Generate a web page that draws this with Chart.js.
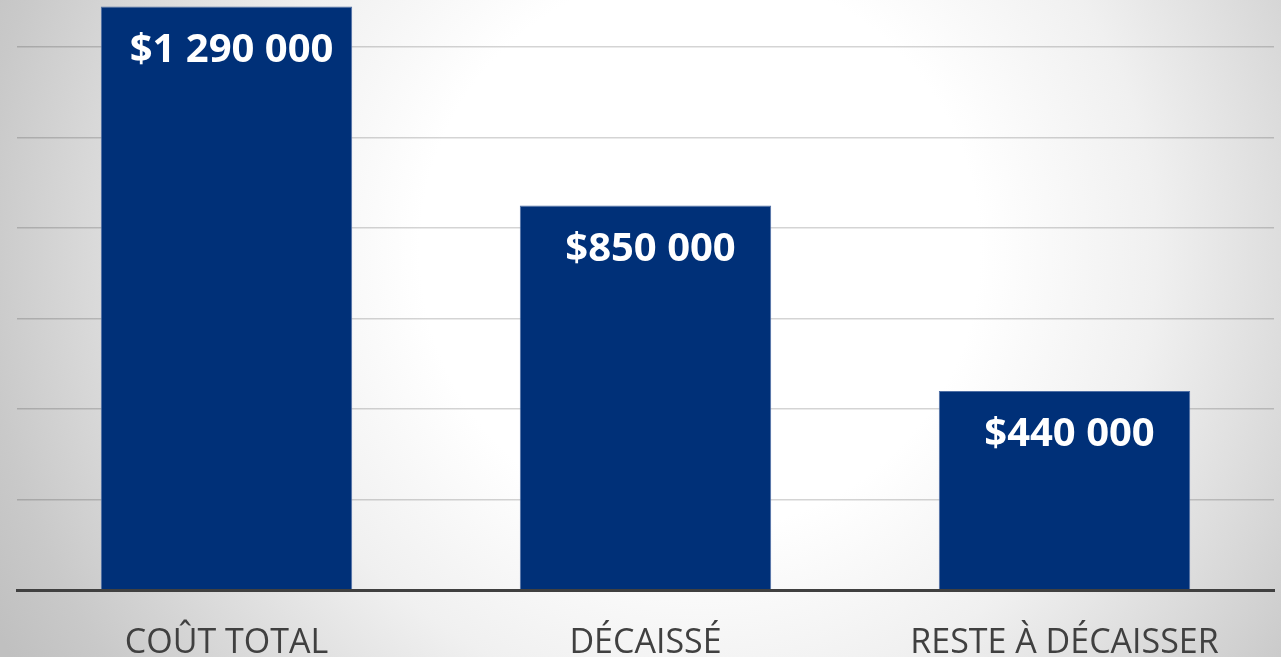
<!DOCTYPE html>
<html>
<head>
<meta charset="utf-8">
<script src="https://cdn.jsdelivr.net/npm/chart.js@4.4.1/dist/chart.umd.min.js"></script>
<style>
  html, body { margin: 0; padding: 0; overflow: hidden; }
  #wrap { width: 1281px; height: 657px; position: relative; }
</style>
</head>
<body>
<div id="wrap"><canvas id="c"></canvas></div>
<script>
const categories = ["COÛT TOTAL", "DÉCAISSÉ", "RESTE À DÉCAISSER"];
const values = [1290000, 850000, 440000];
const yMax = 1300000;
const yTicks = [200000, 400000, 600000, 800000, 1000000, 1200000];

function fmt(v) {
  return "$" + String(v).replace(/\B(?=(\d{3})+(?!\d))/g, " ");
}

const bgPlugin = {
  id: "bg",
  beforeDraw(chart) {
    const ctx = chart.ctx;
    const w = chart.width, h = chart.height;
    ctx.save();
    const g = ctx.createRadialGradient(700, 250, 0, 700, 250, 800);
    g.addColorStop(0, "#ffffff");
    g.addColorStop(0.35, "#ffffff");
    g.addColorStop(0.57, "#f0f0f0");
    g.addColorStop(0.79, "#d6d6d6");
    g.addColorStop(0.9, "#c9c9c9");
    g.addColorStop(1, "#c0c0c0");
    ctx.fillStyle = g;
    ctx.fillRect(0, 0, w, h);
    ctx.restore();
  }
};

const labelPlugin = {
  id: "valLabels",
  afterDatasetsDraw(chart) {
    const ctx = chart.ctx;
    const meta = chart.getDatasetMeta(0);
    ctx.save();
    ctx.fillStyle = "#ffffff";
    ctx.font = "bold 40px 'Open Sans'";
    ctx.textAlign = "center";
    ctx.textBaseline = "alphabetic";
    meta.data.forEach((bar, i) => {
      ctx.fillText(fmt(chart.data.datasets[0].data[i]), bar.x + 5, bar.y + 55);
    });
    ctx.restore();
  }
};

new Chart(document.getElementById("c"), {
  type: "bar",
  data: {
    labels: categories,
    datasets: [{
      data: values,
      backgroundColor: "#003078",
      borderColor: "#4f6fa5",
      borderWidth: 1,
      categoryPercentage: 1,
      barPercentage: 0.6
    }]
  },
  options: {
    responsive: true,
    maintainAspectRatio: false,
    animation: false,
    layout: { padding: { left: 17, right: 7, top: 2, bottom: 0 } },
    plugins: { legend: { display: false }, tooltip: { enabled: false } },
    scales: {
      x: {
        grid: { display: false, drawTicks: false },
        border: { display: true, color: "#404040", width: 3, z: 1 },
        ticks: {
          color: "#404040",
          font: { family: "'Open Sans'", size: 34 },
          padding: 33,
          maxRotation: 0
        },
        afterFit: (scale) => { scale.height = 67; }
      },
      y: {
        min: 0,
        max: yMax,
        ticks: { display: false },
        border: { display: false },
        afterBuildTicks: (scale) => { scale.ticks = yTicks.map(v => ({ value: v })); },
        grid: { drawTicks: false, lineWidth: 1.5, color: "rgba(0,0,0,0.17)" }
      }
    }
  },
  plugins: [bgPlugin, labelPlugin]
});
</script>
</body>
</html>
